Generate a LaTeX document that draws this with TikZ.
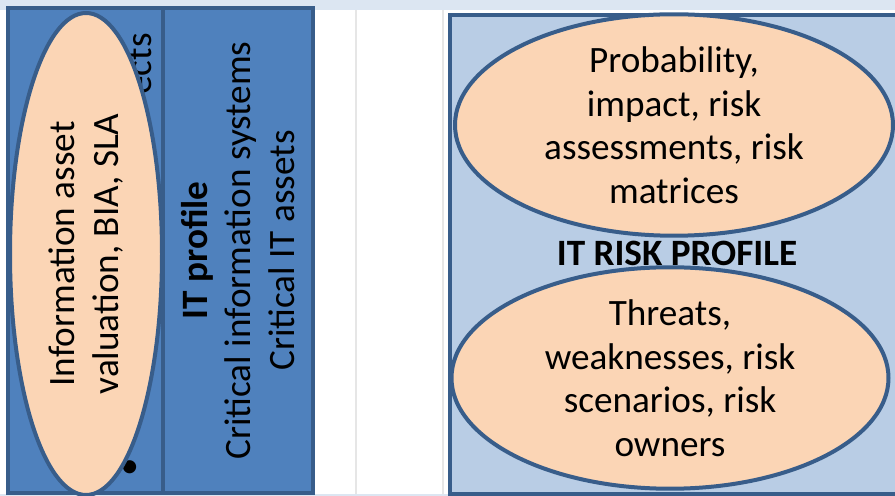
\documentclass[tikz,border=0pt]{standalone}
\usepackage{fontspec}
\setmainfont{Carlito}
\usetikzlibrary{shapes.geometric}

\definecolor{stripblue}{HTML}{DCE6F2}
\definecolor{panelblue}{HTML}{4F81BD}
\definecolor{paleblue}{HTML}{B9CDE5}
\definecolor{edgeblue}{HTML}{385D8A}
\definecolor{peach}{HTML}{FBD5B5}
\definecolor{rulegray}{HTML}{E6E6E6}

\begin{document}
\begin{tikzpicture}[x=0.5pt, y=-0.5pt,
	every node/.style={font=\fontsize{18.6}{21.75}\selectfont, inner sep=0pt},
	panel/.style={rectangle, draw=edgeblue, fill=panelblue, line width=2pt},
	riskpanel/.style={rectangle, draw=edgeblue, fill=paleblue, line width=2pt},
	blob/.style={ellipse, draw=edgeblue, fill=peach, line width=2pt, align=center}]
	\useasboundingbox (0,0) rectangle (895,496);
	
	% strips and rules of the slide
	\fill[stripblue] (0,0) rectangle (895,10);
	\fill[stripblue] (0,494) rectangle (895,496);
	\draw[rulegray, line width=1pt] (356,10) -- (356,494);
	\draw[rulegray, line width=1pt] (443,10) -- (443,494);
	
	% left column
	\node[panel, minimum width=77.5pt, minimum height=242.5pt] (assets) at (85.5,250.5) {};
	\node[rotate=90, anchor=east] (assetstail) at (140,33) {ects};
	\node[rotate=90] (bullet) at (132,467) {•};
	\node[blob, rotate=90, minimum width=241pt, minimum height=76pt] (valuation) at (86,254)
		{Information asset\\valuation, BIA, SLA};
	
	\node[panel, rotate=90, align=center, minimum width=242.5pt, minimum height=75pt] (itprofile) at (238,250.5)
		{\textbf{IT profile}\\Critical information systems\\Critical IT assets};
	
	% right column
	\node[riskpanel, anchor=north west, minimum width=230pt, minimum height=239.5pt] (riskprofile) at (448,13) {};
	\node[blob, minimum width=219pt, minimum height=97pt] (probability) at (674,125)
		{Probability,\\impact, risk\\assessments, risk\\matrices};
	\node (risktitle) at (677,253) {\textbf{IT RISK PROFILE}};
	\node[blob, minimum width=218.5pt, minimum height=93pt] (threats) at (670,378)
		{Threats,\\weaknesses, risk\\scenarios, risk\\owners};
\end{tikzpicture}
\end{document}
